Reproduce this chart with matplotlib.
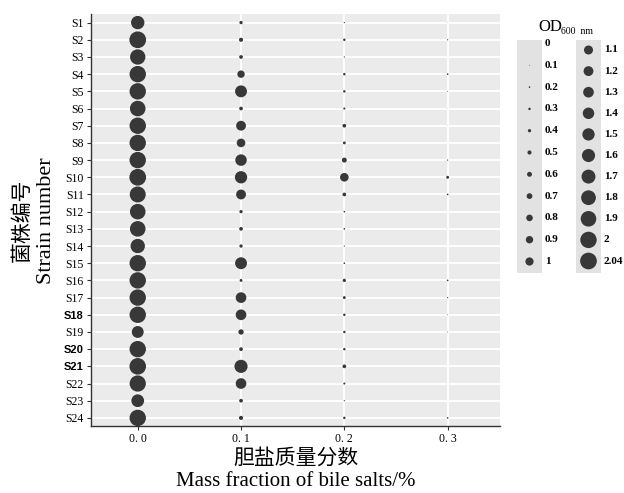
import numpy as np
import matplotlib
matplotlib.use("Agg")
import matplotlib.pyplot as plt

# ------------------------------------------------------------
# Bile salt tolerance: OD600 of 24 strains as a bubble grid
# ------------------------------------------------------------

STRAINS = [f"S{i}" for i in range(1, 25)]
BOLD_STRAINS = ["S18", "S20", "S21"]
BILE = [0.0, 0.1, 0.2, 0.3]

# OD600, one list per bile salt level
OD_00 = [1.63, 2.04, 1.87, 2.0, 2.0, 1.9, 2.0, 2.0, 2.0, 2.04, 1.95, 1.9,
         1.9, 1.75, 2.0, 2.0, 2.0, 2.0, 1.45, 2.0, 2.02, 1.98, 1.55, 2.0]
OD_01 = [0.4, 0.5, 0.45, 0.9, 1.45, 0.45, 1.2, 1.05, 1.4, 1.5, 1.2, 0.4,
         0.45, 0.4, 1.45, 0.35, 1.3, 1.3, 0.65, 0.45, 1.6, 1.3, 0.45, 0.5]
OD_02 = [0.15, 0.3, 0.15, 0.3, 0.3, 0.25, 0.45, 0.35, 0.6, 1.05, 0.45, 0.2,
         0.2, 0.15, 0.2, 0.4, 0.35, 0.3, 0.3, 0.3, 0.45, 0.25, 0.15, 0.3]
OD_03 = [0.05, 0.15, 0.0, 0.2, 0.1, 0.05, 0.05, 0.0, 0.15, 0.35, 0.2, 0.0,
         0.05, 0.0, 0.0, 0.2, 0.15, 0.1, 0.1, 0.0, 0.0, 0.0, 0.0, 0.2]

LEGEND_LEFT = [0, 0.1, 0.2, 0.3, 0.4, 0.5, 0.6, 0.7, 0.8, 0.9, 1]
LEGEND_RIGHT = [1.1, 1.2, 1.3, 1.4, 1.5, 1.6, 1.7, 1.8, 1.9, 2, 2.04]

DOT = "#383838"
PANEL = "#ebebeb"
SERIF = "Liberation Serif"
CJK = "Noto Sans CJK SC"
PX_PER_OD = 8.2   # dot diameter in pixels for OD = 1


def dot_size(values):
    d_pt = np.asarray(values, dtype=float) * PX_PER_OD * 0.72
    return d_pt ** 2


def draw_bubbles(ax):
    ypos = np.arange(1, len(STRAINS) + 1)
    for level, od in zip(BILE, [OD_00, OD_01, OD_02, OD_03]):
        ax.scatter(np.full(len(od), level), ypos, s=dot_size(od),
                   color=DOT, linewidths=0, zorder=3)

    ax.set_facecolor(PANEL)
    ax.set_xlim(-0.0455, 0.3507)
    ax.set_ylim(len(STRAINS) + 0.5, 0.5)
    ax.set_xticks(BILE)
    ax.set_xticklabels([f"{b:.1f}".replace(".", ". ") for b in BILE],
                       family=SERIF, fontsize=8.5)
    ax.set_yticks(ypos)
    ax.set_yticklabels(STRAINS, family=SERIF, fontsize=8.5)
    for lab in ax.get_yticklabels():
        if lab.get_text() in BOLD_STRAINS:
            lab.set_family("Liberation Sans")
            lab.set_fontweight("bold")
            lab.set_fontsize(8)

    ax.grid(True, color="white", linewidth=1.3, zorder=0)
    ax.set_axisbelow(True)
    for side in ["top", "right"]:
        ax.spines[side].set_visible(False)
    for side in ["left", "bottom"]:
        ax.spines[side].set_color("#333333")
        ax.spines[side].set_linewidth(1.0)
    ax.tick_params(length=3, width=0.8, color="#333333", pad=2)


def draw_legend(fig):
    lax = fig.add_axes([0, 0, 1, 1])
    lax.set_xlim(0, 624)
    lax.set_ylim(493, 0)
    lax.axis("off")

    lax.text(538, 27, "OD", family=SERIF, fontsize=12, va="center", ha="left")
    lax.text(561, 32, "600  nm", family=SERIF, fontsize=7, va="center", ha="left")

    cols = [(LEGEND_LEFT, 517, 43.5, 21.8), (LEGEND_RIGHT, 576, 50.0, 21.1)]
    for values, x0, y0, step in cols:
        lax.add_patch(plt.Rectangle((x0, 40), 25, 233, color="#e2e2e2", lw=0))
        ys = y0 + step * np.arange(len(values))
        lax.scatter(np.full(len(values), x0 + 12.5), ys, s=dot_size(values),
                    color=DOT, linewidths=0, zorder=3)
        for v, y in zip(values, ys):
            lax.text(x0 + 28, y, f"{v:g}", family=SERIF, fontweight="bold",
                     fontsize=8, va="center", ha="left")


def main():
    fig = plt.figure(figsize=(6.24, 4.93), dpi=100)
    ax = fig.add_axes([0.1454, 0.1349, 0.6559, 0.8367])
    draw_bubbles(ax)
    draw_legend(fig)

    # two-line axis titles: Chinese above English
    fig.text(0.035, 0.553, "菌株编号", family=CJK, fontsize=15,
             rotation=90, ha="center", va="center")
    fig.text(0.075, 0.553, "Strain number", family=SERIF, fontsize=16,
             rotation=90, ha="center", va="center")
    fig.text(0.474, 0.072, "胆盐质量分数", family=CJK, fontsize=15,
             ha="center", va="center")
    fig.text(0.474, 0.024, "Mass fraction of bile salts/%", family=SERIF,
             fontsize=15, ha="center", va="center")

    fig.savefig("out.png", dpi=100)


if __name__ == "__main__":
    main()
